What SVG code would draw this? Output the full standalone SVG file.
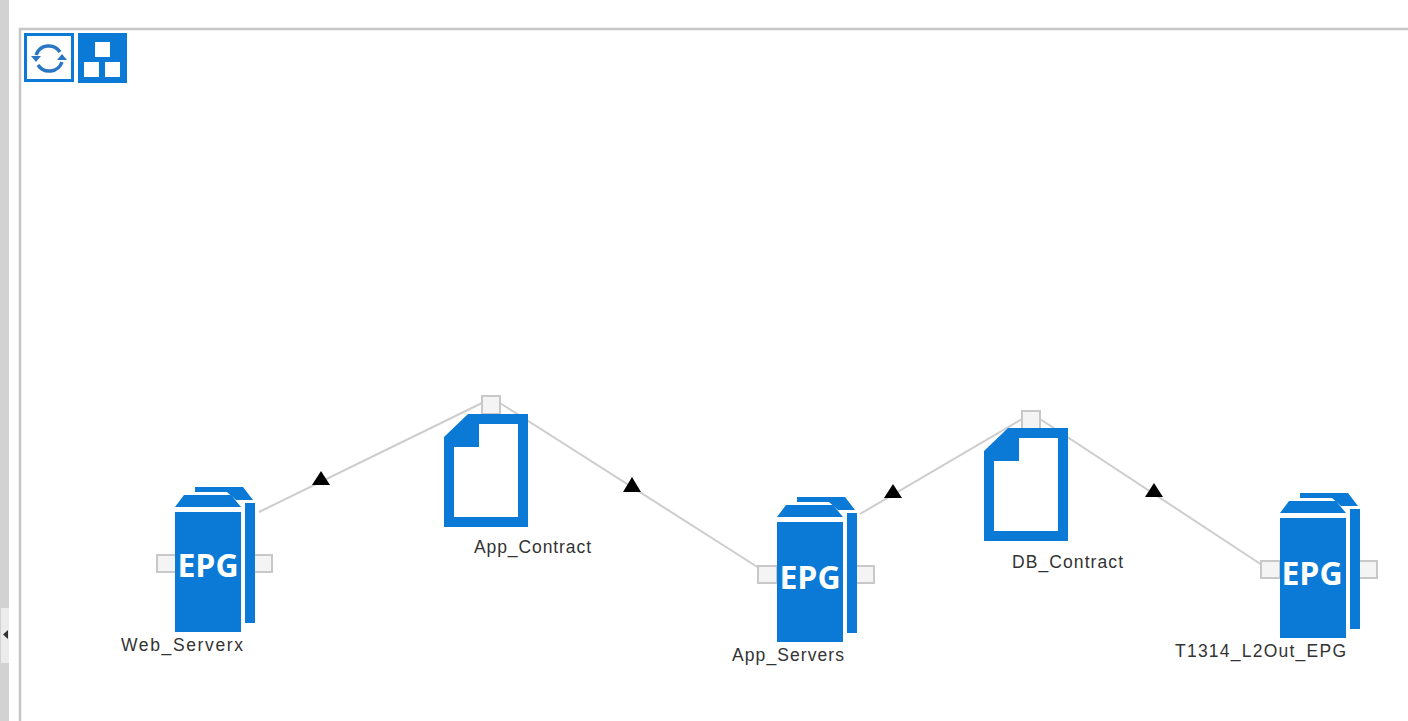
<svg xmlns="http://www.w3.org/2000/svg" width="1408" height="721" viewBox="0 0 1408 721">
<style>
.b{fill:#0a7ad6}
.port{fill:#f4f4f4;stroke:#c8c8c8;stroke-width:2}
.conn{stroke:#cdcdcd;stroke-width:2;fill:none}
.lbl{font-family:"Liberation Sans",Arial,sans-serif;font-size:17.500px;fill:#333}
.epg{font-family:"Open Sans","DejaVu Sans",sans-serif;font-size:32px;font-weight:700;fill:#fff;text-anchor:middle}
</style>
<defs>
<g id="server">
<path class="b" d="M20 6V1H68L78 14H61L52 6Z"/>
<rect class="b" x="70" y="17" width="10" height="120"/>
<path class="b" d="M0 21L9 9H56L66 21Z"/>
<rect class="b" x="0" y="26" width="66" height="120"/>
</g>
<g id="doc">
<path class="b" fill-rule="evenodd" d="M24 0H84V113H0V23ZM35 10V33H10V103H74V10Z"/>
</g>
</defs>
<rect x="0" y="0" width="1408" height="721" fill="#fff"/>
<rect x="0" y="0" width="9" height="721" fill="#d2d2d2"/>
<rect x="1" y="608" width="8" height="55" fill="#ececec"/>
<path d="M8 630L3 634.500L8 639Z" fill="#333"/>
<path d="M20 721V29H1408" fill="none" stroke="#c6c6c6" stroke-width="2.500"/>
<g id="toolbar">
<rect x="25.500" y="34.500" width="47" height="46" fill="#fff" stroke="#0a7ad6" stroke-width="3"/>
<path d="M36 55A13.500 13.500 0 0 1 60 52M62 62A13.500 13.500 0 0 1 38 65" fill="none" stroke="#2a75c4" stroke-width="3.500"/>
<path d="M31 56H41L36 62ZM57 60H67L62 54Z" fill="#2a75c4"/>
<rect class="b" x="78" y="33" width="49" height="50"/>
<rect x="95" y="42" width="15" height="15" fill="#fff"/>
<rect x="84" y="62" width="15" height="15" fill="#fff"/>
<rect x="105" y="62" width="15" height="15" fill="#fff"/>
</g>
<g id="connectors">
<path class="conn" d="M259 512L482 403"/>
<path class="conn" d="M500 403L759 568"/>
<path class="conn" d="M860 514L1022 419"/>
<path class="conn" d="M1040 419L1262 565"/>
<path d="M321 471L330 485H312Z"/>
<path d="M632 477L641 492H623Z"/>
<path d="M893 484L902 498H884Z"/>
<path d="M1154 483L1163 497H1145Z"/>
</g>
<g id="Web_Serverx">
<rect class="port" x="157" y="555" width="19" height="17"/>
<rect class="port" x="254" y="555" width="18" height="17"/>
<use href="#server" x="175" y="486"/>
<text class="epg" x="208" y="577">EPG</text>
<text class="lbl" x="121" y="651" textLength="122" lengthAdjust="spacing">Web_Serverx</text>
</g>
<g id="App_Contract">
<rect class="port" x="482" y="396" width="18" height="18"/>
<use href="#doc" x="444" y="414"/>
<text class="lbl" x="474" y="553" textLength="117" lengthAdjust="spacing">App_Contract</text>
</g>
<g id="App_Servers">
<rect class="port" x="758" y="566" width="19" height="17"/>
<rect class="port" x="856" y="566" width="18" height="17"/>
<use href="#server" x="777" y="496"/>
<text class="epg" x="810" y="589">EPG</text>
<text class="lbl" x="732" y="661" textLength="112" lengthAdjust="spacing">App_Servers</text>
</g>
<g id="DB_Contract">
<rect class="port" x="1022" y="411" width="18" height="18"/>
<use href="#doc" x="984" y="428"/>
<text class="lbl" x="1012" y="568" textLength="111" lengthAdjust="spacing">DB_Contract</text>
</g>
<g id="T1314_L2Out_EPG">
<rect class="port" x="1261" y="561" width="19" height="17"/>
<rect class="port" x="1359" y="561" width="18" height="17"/>
<use href="#server" x="1280" y="492"/>
<text class="epg" x="1312" y="585">EPG</text>
<text class="lbl" x="1175" y="657" textLength="171" lengthAdjust="spacing">T1314_L2Out_EPG</text>
</g>
</svg>
